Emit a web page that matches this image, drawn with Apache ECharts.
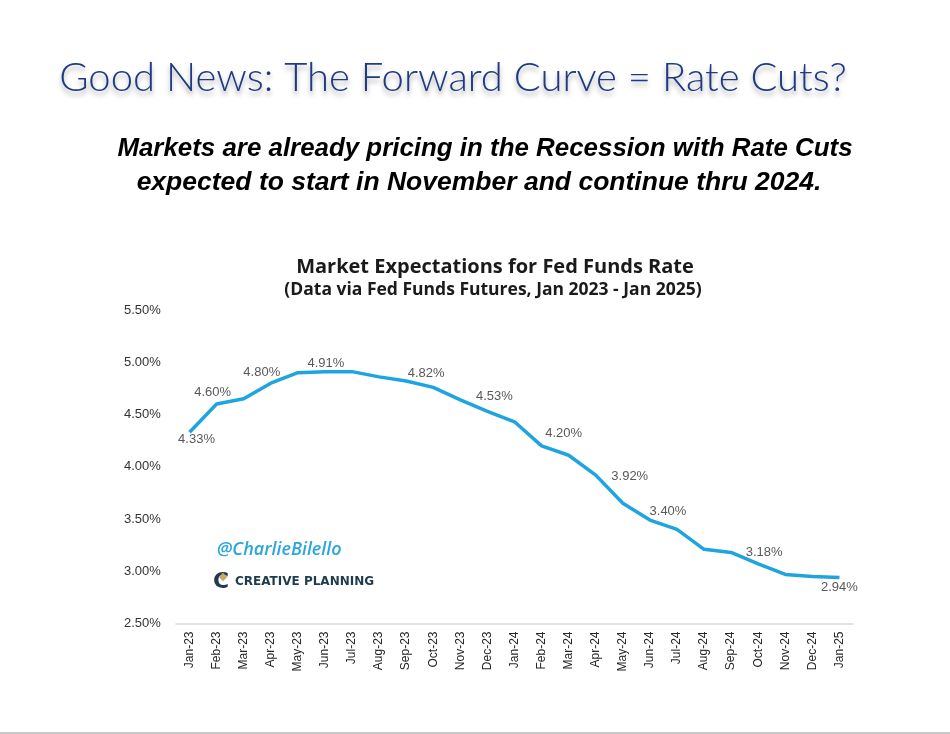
<!DOCTYPE html>
<html>
<head>
<meta charset="utf-8">
<script src="https://cdn.jsdelivr.net/npm/echarts@6/dist/echarts.min.js"></script>
<style>
html,body{margin:0;padding:0;background:#fff;}
#chart{width:950px;height:734px;}
</style>
</head>
<body>
<div id="chart"></div>
<script>
// ---- Data ----
const categories = ['Jan-23','Feb-23','Mar-23','Apr-23','May-23','Jun-23','Jul-23','Aug-23','Sep-23','Oct-23','Nov-23','Dec-23',
  'Jan-24','Feb-24','Mar-24','Apr-24','May-24','Jun-24','Jul-24','Aug-24','Sep-24','Oct-24','Nov-24','Dec-24','Jan-25'];
const rates = [4.33,4.60,4.65,4.80,4.90,4.91,4.91,4.86,4.82,4.76,4.64,4.53,
  4.43,4.20,4.11,3.92,3.65,3.49,3.40,3.21,3.18,3.07,2.97,2.95,2.94];
const labeledIdx = [0,1,3,5,8,11,13,15,18,20,24];
const yTicks = [2.5,3.0,3.5,4.0,4.5,5.0,5.5];

// label placement (offsets from point, in px) kept apart from data
const labelOffsets = {
  0:[7,7], 1:[-4,-12], 3:[-9,-11], 5:[1,-8], 8:[20,-8], 11:[7,-15],
  13:[22,-12], 15:[34,1], 18:[-9,-18], 20:[33,0], 24:[0,10]
};

const seriesData = rates.map((v,i)=>{
  const item = {value:v};
  if (labeledIdx.indexOf(i) >= 0) {
    item.label = {show:true, position:'inside', offset:labelOffsets[i] || [0,-10]};
  }
  return item;
});

const chart = echarts.init(document.getElementById('chart'), null, {renderer:'canvas'});
chart.setOption({
  backgroundColor:'#ffffff',
  animation:false,
  title:[{
    text:'Market Expectations for Fed Funds Rate',
    left:490, top:252, textAlign:'center',
    textStyle:{fontFamily:'Open Sans', fontWeight:'bold', fontSize:20, color:'#1a1a1a'}
  },{
    text:'(Data via Fed Funds Futures, Jan 2023 - Jan 2025)',
    left:488, top:276, textAlign:'center',
    textStyle:{fontFamily:'Open Sans', fontWeight:'bold', fontSize:17.5, color:'#1a1a1a'}
  }],
  grid:{left:176, width:677, top:310, height:313.5},
  xAxis:{
    type:'category', data:categories, boundaryGap:true,
    axisLine:{show:true, lineStyle:{color:'#d9d9d9', width:1.5}},
    axisTick:{show:false},
    axisLabel:{rotate:90, margin:8, fontFamily:'Liberation Sans', fontSize:12, color:'#262626', interval:0}
  },
  yAxis:{
    type:'value', min:2.5, max:5.5, interval:0.5,
    axisLine:{show:false}, axisTick:{show:false}, splitLine:{show:false},
    axisLabel:{
      margin:52, align:'left', fontFamily:'Liberation Sans', fontSize:13, color:'#333333',
      formatter:(v)=> yTicks.some(t=>Math.abs(t-v)<1e-9) ? v.toFixed(2)+'%' : ''
    }
  },
  series:[{
    type:'line', data:seriesData,
    symbol:'circle', symbolSize:1, showSymbol:true,
    itemStyle:{color:'rgba(0,0,0,0)'},
    lineStyle:{color:'#1ea5e0', width:3.5},
    label:{show:false, fontFamily:'Liberation Sans', fontSize:13, color:'#595959',
      formatter:(p)=> p.value.toFixed(2)+'%'},
    emphasis:{disabled:true}
  }],
  graphic:[
    {type:'text', x:453, y:78, style:{
      text:'Good News: The Forward Curve = Rate Cuts?',
      font:'300 40px Lato', fill:'#1f3a82', textAlign:'center', textVerticalAlign:'middle',
      textShadowColor:'rgba(0,0,0,0.35)', textShadowBlur:5, textShadowOffsetY:4
    }},
    {type:'text', x:485, y:149, style:{
      text:'Markets are already pricing in the Recession with Rate Cuts',
      font:'italic bold 25.9px "Liberation Sans"', fill:'#000', textAlign:'center', textVerticalAlign:'middle'
    }},
    {type:'text', x:479, y:183, style:{
      text:'expected to start in November and continue thru 2024.',
      font:'italic bold 26.5px "Liberation Sans"', fill:'#000', textAlign:'center', textVerticalAlign:'middle'
    }},
    {type:'text', x:217, y:550, style:{
      text:'@CharlieBilello', font:'italic 600 18px "Open Sans"', fill:'#2aa5de', textVerticalAlign:'middle'
    }},
    {type:'text', x:213, y:582, style:{
      text:'C', font:'bold 22px "DejaVu Sans"', fill:'#1f3b4d', textVerticalAlign:'middle'
    }},
    {type:'rect', x:223, y:577, shape:{x:-3, y:-3, width:6, height:6}, rotation:Math.PI/4, originX:0, originY:0,
      style:{fill:'#c9a86a'}},
    {type:'text', x:235, y:582, style:{
      text:'CREATIVE PLANNING', font:'bold 12px "DejaVu Sans"', fill:'#1f3b4d', textVerticalAlign:'middle'
    }},
    {type:'line', shape:{x1:0, y1:733, x2:950, y2:733}, style:{stroke:'#c8c8c8', lineWidth:2}}
  ]
});
</script>
</body>
</html>
